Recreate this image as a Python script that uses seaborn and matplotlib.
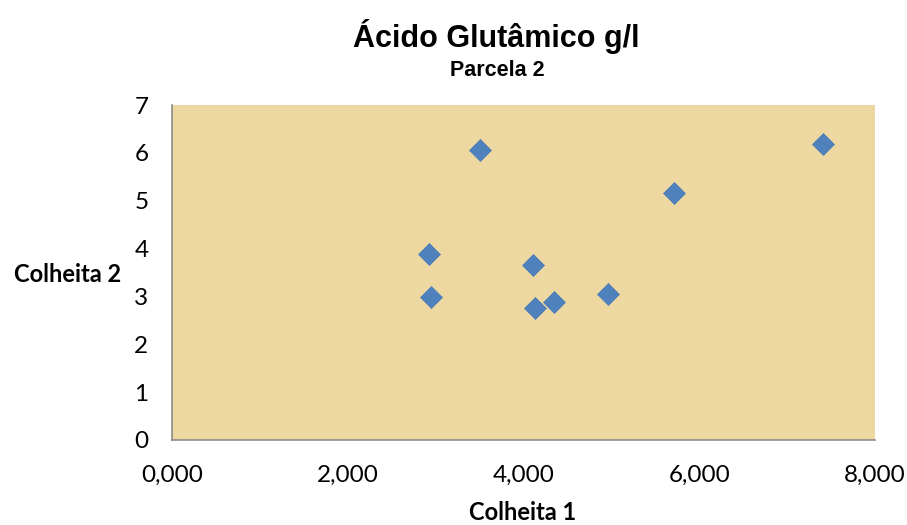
import matplotlib
matplotlib.use("Agg")
import matplotlib.pyplot as plt
import seaborn as sns
import pandas as pd
from matplotlib.ticker import FuncFormatter

# Data
colheita1 = [2.92, 2.95, 3.50, 4.11, 4.13, 4.35, 4.96, 5.71, 7.41]
colheita2 = [3.88, 2.99, 6.07, 3.66, 2.76, 2.88, 3.06, 5.17, 6.18]
x_ticks = [0, 2, 4, 6, 8]
y_ticks = [0, 1, 2, 3, 4, 5, 6, 7]

title = "Ácido Glutâmico g/l"
subtitle = "Parcela 2"
xlabel = "Colheita 1"
ylabel = "Colheita 2"

df = pd.DataFrame({"c1": colheita1, "c2": colheita2})

sns.set_theme(style="white")
plt.rcParams["font.family"] = ["Liberation Sans", "DejaVu Sans"]
plt.rcParams["text.color"] = "black"

fig = plt.figure(figsize=(9.07, 5.25), dpi=100)
ax = fig.add_axes([172/907, 1-440/525, (875-172)/907, (440-105)/525])
ax.set_facecolor("#EED8A1")

sns.scatterplot(data=df, x="c1", y="c2", marker="D", s=125, color="#4F81BD",
                edgecolor="#4A7AB5", linewidth=0.5, ax=ax, zorder=3)

ax.set_xlim(0, 8)
ax.set_ylim(0, 7)
ax.set_xticks(x_ticks)
ax.set_yticks(y_ticks)
ax.xaxis.set_major_formatter(FuncFormatter(lambda v, p: f"{v:.3f}".replace(".", ",")))
ax.yaxis.set_major_formatter(FuncFormatter(lambda v, p: f"{int(v)}"))

for s in ["top", "right"]:
    ax.spines[s].set_visible(False)
for s in ["left", "bottom"]:
    ax.spines[s].set_color("#8C8C8C")
    ax.spines[s].set_linewidth(1.2)

tick_font = ["Lato", "DejaVu Sans"]
ax.tick_params(axis="both", which="major", direction="out", length=6, width=1.2,
               color="#8C8C8C", labelsize=17.5, labelcolor="black")
ax.tick_params(axis="x", pad=12)
ax.tick_params(axis="y", pad=11)
for lab in ax.get_xticklabels() + ax.get_yticklabels():
    lab.set_family(tick_font)

ax.set_xlabel("")
ax.set_ylabel("")

fig.text(496/907, 1-37/525, title, ha="center", va="center", fontsize=22,
         fontweight="bold", family=["Liberation Sans", "DejaVu Sans"], color="black")
fig.text(497/907, 1-70/525, subtitle, ha="center", va="center", fontsize=15.5,
         fontweight="bold", family=["Liberation Sans", "DejaVu Sans"], color="black")
fig.text(523/907, 1-513/525, xlabel, ha="center", va="center", fontsize=17,
         fontweight="bold", family=tick_font, color="black")
fig.text(121/907, 1-275/525, ylabel, ha="right", va="center", fontsize=17,
         fontweight="bold", family=tick_font, color="black")

fig.savefig("out.png", dpi=100, facecolor="white")
